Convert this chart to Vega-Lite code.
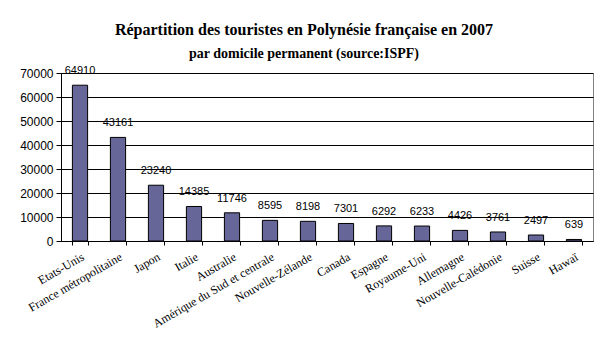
{
  "$schema": "https://vega.github.io/schema/vega-lite/v6.json",
  "autosize": {"type": "none"},
  "width": 532,
  "height": 168,
  "padding": {"left": 61, "top": 73, "right": 15, "bottom": 100},
  "background": "white",
  "title": {
    "text": "Répartition des touristes en Polynésie française en 2007",
    "subtitle": "par domicile permanent (source:ISPF)",
    "font": "Liberation Serif",
    "fontSize": 16,
    "fontWeight": "bold",
    "subtitleFont": "Liberation Serif",
    "subtitleFontSize": 14,
    "subtitleFontWeight": "bold",
    "subtitleColor": "black",
    "subtitlePadding": 9,
    "color": "black",
    "anchor": "middle",
    "dx": -23,
    "offset": 4
  },
  "data": {
    "values": [
      {"pays": "Etats-Unis", "touristes": 64910},
      {"pays": "France métropolitaine", "touristes": 43161},
      {"pays": "Japon", "touristes": 23240},
      {"pays": "Italie", "touristes": 14385},
      {"pays": "Australie", "touristes": 11746},
      {"pays": "Amérique du Sud et centrale", "touristes": 8595},
      {"pays": "Nouvelle-Zélande", "touristes": 8198},
      {"pays": "Canada", "touristes": 7301},
      {"pays": "Espagne", "touristes": 6292},
      {"pays": "Royaume-Uni", "touristes": 6233},
      {"pays": "Allemagne", "touristes": 4426},
      {"pays": "Nouvelle-Calédonie", "touristes": 3761},
      {"pays": "Suisse", "touristes": 2497},
      {"pays": "Hawaï", "touristes": 639}
    ]
  },
  "encoding": {
    "x": {
      "field": "pays",
      "type": "nominal",
      "sort": null,
      "scale": {"paddingInner": 0.6, "paddingOuter": 0.3},
      "axis": {
        "title": null,
        "labelAngle": -30,
        "labelAlign": "right",
        "labelBaseline": "top",
        "labelFont": "Liberation Serif",
        "labelFontSize": 12,
        "labelColor": "black",
        "labelPadding": 6,
        "tickBand": "extent",
        "ticks": true,
        "tickSize": 4,
        "tickColor": "black",
        "tickOpacity": 1,
        "domainColor": "black",
        "labelOverlap": false,
        "grid": false
      }
    },
    "y": {
      "field": "touristes",
      "type": "quantitative",
      "scale": {"domain": [0, 70000], "nice": false},
      "axis": {
        "title": null,
        "values": [0, 10000, 20000, 30000, 40000, 50000, 60000, 70000],
        "format": "d",
        "labelFont": "Liberation Sans",
        "labelFontSize": 12,
        "labelColor": "black",
        "labelPadding": 3,
        "tickSize": 5,
        "tickColor": "black",
        "domainColor": "black",
        "grid": true,
        "gridColor": "#000000",
        "gridOpacity": 1,
        "gridWidth": 1
      }
    }
  },
  "layer": [
    {
      "mark": {"type": "bar", "color": "#666699", "stroke": "black", "strokeWidth": 1}
    },
    {
      "mark": {
        "type": "text",
        "baseline": "bottom",
        "dy": -9,
        "font": "Liberation Sans",
        "fontSize": 11,
        "color": "black"
      },
      "encoding": {"text": {"field": "touristes", "type": "quantitative", "format": "d"}}
    }
  ],
  "config": {
    "view": {"stroke": "#808080", "strokeWidth": 1},
    "axis": {"domainWidth": 1, "tickWidth": 1, "gridColor": "#000000", "gridOpacity": 1}
  }
}
